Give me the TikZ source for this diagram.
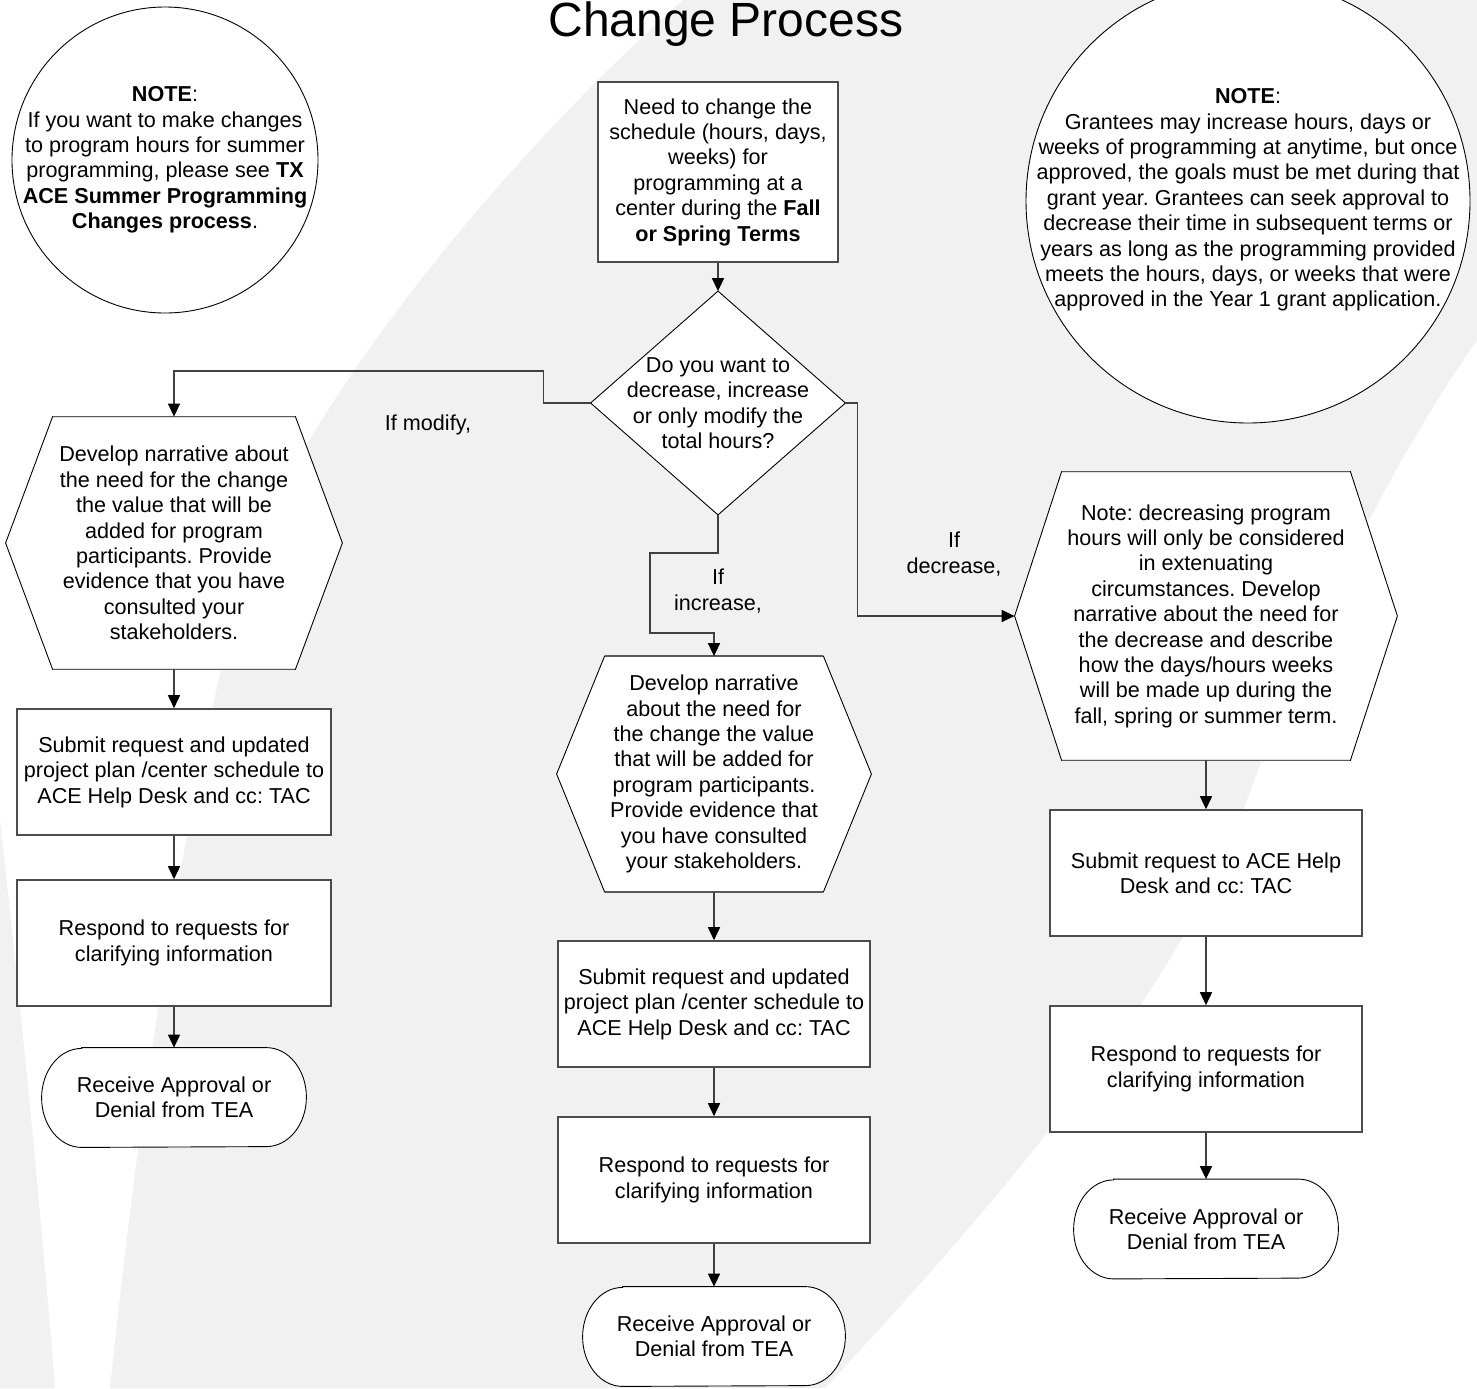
\documentclass[tikz,border=0pt]{standalone}
\usepackage{fontspec}
\setmainfont{Liberation Sans}
\frenchspacing
\usetikzlibrary{arrows.meta,calc,backgrounds}
\definecolor{bggray}{RGB}{241,241,241}
\pgfdeclarelayer{paper}
\pgfsetlayers{paper,background,main}
\begin{document}
\begin{tikzpicture}[x=0.5pt,y=-0.5pt,
  txt/.style={font=\fontsize{10.8}{12.7}\selectfont\frenchspacing, align=center, inner sep=0pt},
  box/.style={txt, rectangle, draw=black!70, line width=0.8pt, fill=white},
  plain/.style={txt, rectangle},
  outline/.style={draw=black, line width=0.45pt, fill=white},
  link/.style={draw=black!75, line width=0.75pt},
  conn/.style={link, -{Triangle[length=6.5pt,width=6pt,color=black]}},
]
\useasboundingbox (0,0) rectangle (1477,1388);

% background
\begin{pgfonlayer}{paper}
\fill[white] (0,0) rectangle (1477,1388);
\fill[bggray] (683,0) .. controls (480,180) and (300,420) .. (250,560)
  .. controls (190,760) and (140,1100) .. (110,1388) -- (825,1388)
  .. controls (1000,1200) and (1170,1000) .. (1240,820)
  .. controls (1300,650) and (1380,480) .. (1477,340) -- (1477,0) -- cycle;
\fill[bggray] (0,820) .. controls (20,1000) and (40,1200) .. (55,1388) -- (0,1388) -- cycle;
\end{pgfonlayer}

% title
\node[font=\fontsize{24}{28}\selectfont, anchor=base, inner sep=0pt] (title) at (726,36) {Change Process};

% note circles
\node[circle, outline, minimum size=306*0.5pt, inner sep=0pt] (c1) at (165,160) {};
\node[txt] (c1t) at (c1.center) {\textbf{NOTE}:\\ If you want to make changes\\ to program hours for summer\\ programming, please see \textbf{TX}\\ \textbf{ACE Summer Programming}\\ \textbf{Changes process}.};

\node[circle, outline, minimum size=444*0.5pt, inner sep=0pt] (c2) at (1248,201) {};
\node[txt] (c2t) at (1248,200) {\textbf{NOTE}:\\ Grantees may increase hours, days or\\ weeks of programming at anytime, but once\\ approved, the goals must be met during that\\ grant year. Grantees can seek approval to\\ decrease their time in subsequent terms or\\ years as long as the programming provided\\ meets the hours, days, or weeks that were\\ approved in the Year 1 grant application.};

% start box
\node[box, minimum width=240*0.5pt, minimum height=180*0.5pt] (top) at (718,172) {Need to change the\\ schedule (hours, days,\\ weeks) for\\ programming at a\\ center during the \textbf{Fall}\\ \textbf{or Spring Terms}};

% decision
\node[plain, minimum width=254*0.5pt, minimum height=223*0.5pt] (d) at (718,403) {Do you want to\\ decrease, increase\\ or only modify the\\ total hours?};

% hexagons
\node[plain, minimum width=242*0.5pt, minimum height=252*0.5pt] (h1) at (174,543) {Develop narrative about\\ the need for the change\\ the value that will be\\ added for program\\ participants. Provide\\ evidence that you have\\ consulted your\\ stakeholders.};
\coordinate (h1w) at ($(h1.west)+(-47,0)$);
\coordinate (h1e) at ($(h1.east)+(47,0)$);

\node[plain, minimum width=218*0.5pt, minimum height=235*0.5pt] (h2) at (714,774) {Develop narrative\\ about the need for\\ the change the value\\ that will be added for\\ program participants.\\ Provide evidence that\\ you have consulted\\ your stakeholders.};
\coordinate (h2w) at ($(h2.west)+(-48,0)$);
\coordinate (h2e) at ($(h2.east)+(48,0)$);

\node[plain, minimum width=288*0.5pt, minimum height=288*0.5pt] (h3) at (1206,616) {Note: decreasing program\\ hours will only be considered\\ in extenuating\\ circumstances. Develop\\ narrative about the need for\\ the decrease and describe\\ how the days/hours weeks\\ will be made up during the\\ fall, spring or summer term.};
\coordinate (h3w) at ($(h3.west)+(-47,0)$);
\coordinate (h3e) at ($(h3.east)+(47,0)$);

% left column
\node[box, minimum width=314*0.5pt, minimum height=126*0.5pt] (ls) at (174,772) {Submit request and updated\\ project plan /center schedule to\\ ACE Help Desk and cc: TAC};
\node[box, minimum width=314*0.5pt, minimum height=126*0.5pt] (lr) at (174,943) {Respond to requests for\\ clarifying information};
\node[plain, minimum width=264*0.5pt, minimum height=99*0.5pt] (lt) at (174,1097.5) {Receive Approval or\\ Denial from TEA};

% middle column
\node[box, minimum width=312*0.5pt, minimum height=126*0.5pt] (ms) at (714,1004) {Submit request and updated\\ project plan /center schedule to\\ ACE Help Desk and cc: TAC};
\node[box, minimum width=312*0.5pt, minimum height=126*0.5pt] (mr) at (714,1180) {Respond to requests for\\ clarifying information};
\node[plain, minimum width=262*0.5pt, minimum height=99*0.5pt] (mt) at (714,1336.5) {Receive Approval or\\ Denial from TEA};

% right column
\node[box, minimum width=312*0.5pt, minimum height=126*0.5pt] (rs) at (1206,873) {Submit request to ACE Help\\ Desk and cc: TAC};
\node[box, minimum width=312*0.5pt, minimum height=126*0.5pt] (rr) at (1206,1069) {Respond to requests for\\ clarifying information};
\node[plain, minimum width=264*0.5pt, minimum height=99*0.5pt] (rt) at (1206,1229) {Receive Approval or\\ Denial from TEA};

% labels
\node[txt] (lmod) at (428,425) {If modify,};
\node[txt] (linc) at (718,591) {If\\ increase,};
\node[txt] (ldec) at (954,554) {If\\ decrease,};

% shapes drawn behind their texts
\begin{pgfonlayer}{background}
  \draw[outline] (d.north) -- (d.east) -- (d.south) -- (d.west) -- cycle;
  \foreach \h in {h1,h2,h3} {
    \draw[outline] (\h.north west) -- (\h.north east) -- (\h e) -- (\h.south east) -- (\h.south west) -- (\h w) -- cycle;
    \draw[draw=black!65, line width=0.8pt] (\h.north west) -- (\h.north east);
    \draw[draw=black!65, line width=0.8pt] (\h.south west) -- (\h.south east);
  }
  \foreach \t in {lt,mt,rt} {
    \draw[outline] ($(\t.north west)+(40,0)$) -- ($(\t.north east)+(-40,0)$)
      arc[start angle=-90, end angle=90, x radius=40, y radius=49.5]
      -- ($(\t.south west)+(40,0)$)
      arc[start angle=90, end angle=270, x radius=40, y radius=49.5] -- cycle;
  }
\end{pgfonlayer}

% connectors
\draw[conn] (top.south) -- (d.north);
\draw[conn] (d.west) -- ++(-47,0) -- ++(0,-32) -| (h1.north);
\draw[conn] (d.south) -- ++(0,38) -- ++(-68,0) -- ++(0,80) -| (h2.north);
\draw[conn] (d.east) -- ++(12,0) |- (h3w);

\draw[conn] (h1.south) -- (ls.north);
\draw[conn] (ls.south) -- (lr.north);
\draw[conn] (lr.south) -- (lt.north);

\draw[conn] (h2.south) -- (ms.north);
\draw[conn] (ms.south) -- (mr.north);
\draw[conn] (mr.south) -- (mt.north);

\draw[conn] (h3.south) -- (rs.north);
\draw[conn] (rs.south) -- (rr.north);
\draw[conn] (rr.south) -- (rt.north);
\end{tikzpicture}
\end{document}
